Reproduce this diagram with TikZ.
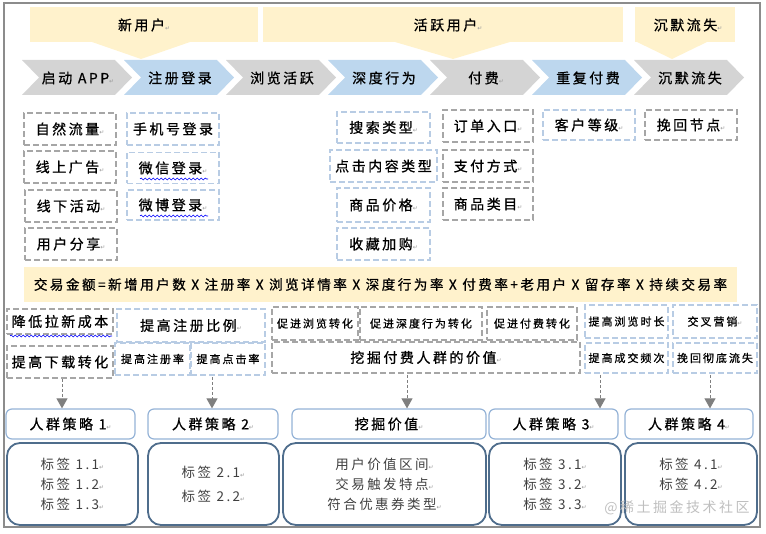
\documentclass[tikz,border=0pt]{standalone}
\usepackage{fontspec}
\setmainfont{Noto Sans CJK SC}[LetterSpace=18,FakeBold=0.8]
\newfontfamily\lightf{Noto Sans CJK SC}[LetterSpace=18]
\newfontfamily\symf{DejaVu Sans}
\usetikzlibrary{arrows.meta,decorations.pathmorphing}

\definecolor{bannery}{HTML}{FFF2CC}
\definecolor{chevgray}{HTML}{D4D4D4}
\definecolor{chevblue}{HTML}{BDD7EE}
\definecolor{dashgray}{HTML}{A6A6A6}
\definecolor{dashblue}{HTML}{B8CCE4}
\definecolor{hdrline}{HTML}{95B3D7}
\definecolor{boxline}{HTML}{4F6D8C}
\definecolor{arrgray}{HTML}{7F7F7F}
\definecolor{frameg}{HTML}{8C8C8C}

\newcommand\retmark{{\symf\fontsize{6}{6}\selectfont\textcolor{gray!80}{↵}}}

\begin{document}
\begin{tikzpicture}[x=1pt,y=-1pt,
  big/.style={font=\fontsize{14}{16}\selectfont},
  small/.style={font=\fontsize{11}{13}\selectfont},
  gbox/.style={draw=dashgray,line width=1.3pt,dash pattern=on 6pt off 3pt,inner sep=0pt,minimum height=32pt},
  bbox/.style={gbox,draw=dashblue},
  hdr/.style={draw=hdrline,line width=1.2pt,rounded corners=6pt,fill=white,minimum height=30pt,inner sep=0pt,big},
  lbox/.style={draw=boxline,line width=1.8pt,rounded corners=13pt,minimum height=82pt,inner sep=0pt,align=center,font=\lightf\fontsize{13.5}{20}\selectfont,text=black!75},
  arr/.style={draw=arrgray,line width=0.9pt,dash pattern=on 3pt off 2pt,-{Triangle[length=10pt,width=11pt]}},
  wavy/.style={draw=blue,line width=0.6pt,decorate,decoration={snake,amplitude=1pt,segment length=4pt}}]
  \useasboundingbox (0,0) rectangle (766,534);

  % user stages
  \fill[bannery] (30,7) rectangle (258,42);
  \fill[bannery] (92,42) -- (190,42) -- (141,59) -- cycle;
  \fill[bannery] (263,7) rectangle (623,42);
  \fill[bannery] (395,42) -- (510,42) -- (453,59) -- cycle;
  \fill[bannery] (635,7) rectangle (735,42);
  \fill[bannery] (637,42) -- (707,42) -- (672,59) -- cycle;
  \node[big] (newu) at (144,25) {新用户\retmark};
  \node[big] (actu) at (448,25) {活跃用户\retmark};
  \node[big] (lostu) at (688,25) {沉默流失\retmark};

  % funnel steps
  \foreach \x/\col/\txt [count=\i] in {22/chevgray/启动 APP\retmark,124/chevblue/注册登录,226/chevgray/浏览活跃,328/chevblue/深度行为,430/chevgray/付费\retmark,532/chevblue/重复付费,634/chevgray/沉默流失}{
    \fill[\col] (\x,60) -- ++(93,0) -- ++(17,17.5) -- ++(-17,17.5) -- ++(-93,0) -- ++(17,-17.5) -- cycle;
    \node[big] (c\i) at (\x+56,78) {\txt};
  }

  % channels
  \node[gbox,big,minimum width=92pt] (zrll) at (70,129) {自然流量\retmark};
  \node[gbox,big,minimum width=92pt] (xsgg) at (70,167) {线上广告\retmark};
  \node[gbox,big,minimum width=92pt] (xxhd) at (71,206) {线下活动\retmark};
  \node[gbox,big,minimum width=92pt] (yhfx) at (71,244) {用户分享\retmark};
  \node[bbox,big,minimum width=92pt] (sjdl) at (173,129) {手机号登录};
  \node[bbox,big,minimum width=92pt,minimum height=31pt] (wxdl) at (173,168) {微信登录\retmark};
  \node[bbox,big,minimum width=92pt,minimum height=30pt] (wbdl) at (173,205) {微博登录\retmark};
  \draw[wavy] (140,179) -- (208,179);
  \draw[wavy] (140,216) -- (208,216);

  \node[bbox,big,minimum width=93pt,minimum height=31pt] (sslx) at (383.5,127.5) {搜索类型\retmark};
  \node[bbox,big,minimum width=107pt] (djnr) at (383.5,166) {点击内容类型};
  \node[bbox,big,minimum width=93pt,minimum height=34pt] (spjg) at (383.5,205) {商品价格\retmark};
  \node[bbox,big,minimum width=93pt] (scjg) at (383.5,244) {收藏加购\retmark};
  \node[gbox,big,minimum width=90pt] (ddrk) at (488,126) {订单入口\retmark};
  \node[gbox,big,minimum width=90pt] (zffs) at (488,166) {支付方式\retmark};
  \node[gbox,big,minimum width=90pt] (splm) at (488,204) {商品类目\retmark};
  \node[bbox,big,minimum width=92pt,minimum height=30pt] (khdj) at (589,125) {客户等级\retmark};
  \node[gbox,big,minimum width=92pt,minimum height=30pt] (whjd) at (691,125) {挽回节点\retmark};

  % formula
  \node[font=\fontsize{13.6}{16}\selectfont,fill=bannery,minimum width=713pt,minimum height=35pt,inner sep=0pt] (band) at (380.5,284.5) {交易金额=新增用户数 X 注册率 X 浏览详情率 X 深度行为率 X 付费率+老用户 X 留存率 X 持续交易率};

  % levers
  \node[gbox,big,minimum width=106pt,minimum height=25pt] (jdlx) at (60,321.5) {降低拉新成本};
  \draw[wavy] (10,336) -- (112,336);
  \node[bbox,big,minimum width=148pt,minimum height=33pt] (tgzc) at (191,325.5) {提高注册比例\retmark};
  \node[gbox,small,minimum width=86pt,minimum height=33pt] (cjll) at (315,323.5) {促进浏览转化};
  \node[gbox,small,minimum width=122pt,minimum height=33pt] (cjsd) at (421,323.5) {促进深度行为转化};
  \node[gbox,small,minimum width=90pt,minimum height=33pt] (cjff) at (532,323.5) {促进付费转化};
  \node[bbox,small,minimum width=83pt,minimum height=33pt] (tgll) at (626.5,321.5) {提高浏览时长};
  \node[bbox,small,minimum width=84pt,minimum height=33pt] (jcyx) at (715,321.5) {交叉营销\retmark};

  \node[gbox,big,minimum width=106pt] (tgxz) at (60,362) {提高下载转化};
  \node[bbox,small,minimum width=75pt] (tgzcl) at (152.5,359) {提高注册率};
  \node[bbox,small,minimum width=74pt] (tgdj) at (228,359) {提高点击率};
  \node[gbox,big,minimum width=308pt,minimum height=31pt] (wjff) at (426,357.5) {挖掘付费人群的价值\retmark};
  \node[bbox,small,minimum width=83pt,minimum height=30pt] (tgcj) at (626.5,358) {提高成交频次};
  \node[bbox,small,minimum width=84pt,minimum height=30pt] (whcd) at (715,358) {挽回彻底流失};

  % strategies
  \node[hdr,minimum width=129pt] (h1) at (70.5,424) {人群策略 1\retmark};
  \node[hdr,minimum width=130pt] (h2) at (213,424) {人群策略 2\retmark};
  \node[hdr,minimum width=194pt] (h3) at (389,424) {挖掘价值\retmark};
  \node[hdr,minimum width=129pt] (h4) at (553.5,424) {人群策略 3\retmark};
  \node[hdr,minimum width=128pt] (h5) at (689,424) {人群策略 4\retmark};

  \coordinate (a1) at (62,379);
  \coordinate (a2) at (212,377);
  \coordinate (a3) at (407,375);
  \coordinate (a4) at (600,375);
  \coordinate (a5) at (710,375);
  \foreach \i in {1,...,5}
    \draw[arr] (a\i) -- (a\i |- h\i.north);

  \node[lbox,minimum width=131pt] (l1) at (72.5,484) {标签 1.1\retmark\\标签 1.2\retmark\\标签 1.3\retmark};
  \node[lbox,minimum width=131pt] (l2) at (213.5,484) {标签 2.1\retmark\\[4pt]标签 2.2\retmark};
  \node[lbox,minimum width=203pt] (l3) at (384.5,484) {用户价值区间\retmark\\交易触发特点\retmark\\符合优惠券类型\retmark};
  \node[lbox,minimum width=132pt] (l4) at (555,484) {标签 3.1\retmark\\标签 3.2\retmark\\标签 3.3\retmark};
  \node[lbox,minimum width=132pt] (l5) at (691,484) {标签 4.1\retmark\\标签 4.2\retmark\\~};

  \node[font=\lightf\fontsize{14}{16}\selectfont,text=black!25] (wm) at (677,508) {@稀土掘金技术社区};

  \draw[frameg,line width=2pt] (4,3) rectangle (760,527);
\end{tikzpicture}
\end{document}
